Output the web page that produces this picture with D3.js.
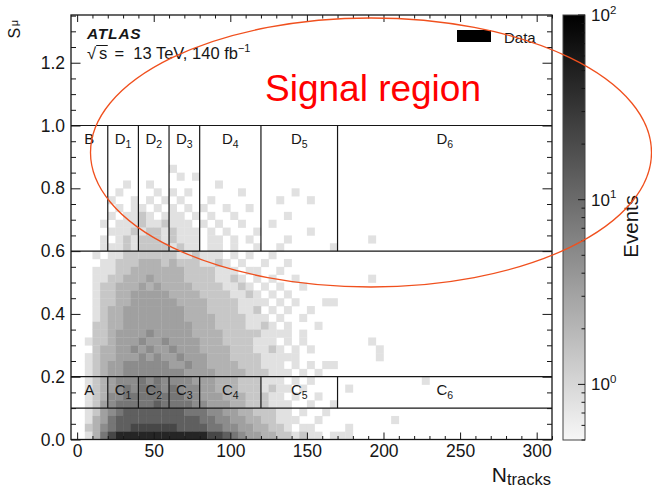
<!DOCTYPE html>
<html>
<head>
<meta charset="utf-8">
<script src="https://cdn.jsdelivr.net/npm/d3@7"></script>
<style>
html, body { margin: 0; padding: 0; background: #fff; }
svg { display: block; font-family: "Liberation Sans", Arial, Helvetica, sans-serif; }
</style>
</head>
<body>
<svg id="chart" width="652" height="488"></svg>
<script>
// --- values ---
var nBinWidth = 5;      // N_tracks per cell
var sBinWidth = 0.025;  // S_mu per cell
var sTop = 0.9;         // upper edge of the first row below

// one string per S_mu row, from 0.875-0.9 down to 0-0.025,
// one char per N_tracks cell (0-5, 5-10, ...), spaces only group by 5
var histRows = [
    "",
    "..... ..... ..1..",
    "..... ..... ...1. 1",
    "..... .1..1 ..... ...1.",
    "..... 1.... 1.1.1 ..... .1... ...1.",
    "....1 ..1.1 .1.1. ..1.. ..... .1... 1",
    "..... 1.11. 1.1.1 .1..1 ..1..",
    "....1 .1121 .111. 1.1.. 1.... ..1..",
    "...1. 11121 12111 .1.1. .1... 1",
    "....1 11212 21211 1.1.1 ...1. ..... 1",
    "...1. 12122 21211 1.11. 1.1.. ..1.. ..... ...1.",
    "...11 12122 22121 1.11. 1..1. .1... ...1.",
    "..1.1 12222 22211 2111. 1.1.. 1",
    "...11 22233 32322 21121 .1..1 ..1",
    "..111 22333 33332 22211 1.11. .1",
    "..112 23334 33332 22211 21.1. 1..1. ..... ...1.",
    "..122 33343 43333 22221 121.1 .1..1",
    "..122 33444 44333 32222 1121. 1.1",
    "..122 33444 44433 33222 21111 .1.1. ..11",
    "..123 34444 44443 33222 2112. 1.1.. 1",
    "..123 34444 44443 33322 22111 .1..1",
    "..223 34444 44444 33322 22112 1.1.. .1",
    "..223 44445 44444 33332 22221 111.1",
    ".1223 44454 45444 43332 22211 1.1.1 ..... ...1.",
    "..233 44545 44544 43333 22211 21.1. 1.... ....1",
    ".1233 44454 54454 44333 22221 1111. ..... ....1",
    ".1234 45555 55445 44333 32221 11.1. 1.11",
    ".1234 45555 55554 44433 33222 111.1 .1",
    ".1234 55565 65555 44433 32221 11.1. 1.... ..... ..... 1",
    ".1234 56566 65655 54433 32221 211.1 ..... 1",
    ".1235 56666 66665 54443 33222 11.1. .1",
    ".1245 66666 76666 55444 33222 111.. 1..1",
    ".1245 67777 77776 66554 43322 211.1 ..1",
    ".1346 77777 77777 76655 44332 2111. .1... ..... .1",
    ".2356 77888 88877 77665 54433 221.1 1.... 1",
    ".1368 99999 99999 99887 65443 32212 11.11 1"
];
// events per cell for each char above
var levelCounts = { '1': 0.8, '2': 1.4, '3': 2.2, '4': 3.2, '5': 5, '6': 8, '7': 13, '8': 22, '9': 45, 'a': 80 };

var xTicksMajor = [0, 50, 100, 150, 200, 250, 300];
var yTicksMajor = [0, 0.2, 0.4, 0.6, 0.8, 1.0, 1.2];
var zTicksMajor = [1, 10, 100];
var zDomain = [0.5, 100];

var regionEdgesN = [20, 40, 60, 80, 120, 170];
var regionEdgesS = [0.1, 0.2, 0.6, 1.0];
var upperLabels = [['B', ''], ['D', '1'], ['D', '2'], ['D', '3'], ['D', '4'], ['D', '5'], ['D', '6']];
var lowerLabels = [['A', ''], ['C', '1'], ['C', '2'], ['C', '3'], ['C', '4'], ['C', '5'], ['C', '6']];

// --- layout ---
var svg = d3.select('#chart');
var plot = { left: 71, right: 552, top: 15, bottom: 439.5 };
var cbar = { left: 563, right: 585, top: 15, bottom: 440 };
var ink = '#161616';

var x = d3.scaleLinear().domain([-4, 310]).range([plot.left, plot.right]);
var y = d3.scaleLinear().domain([0, 1.352]).range([plot.bottom, plot.top]);
var z = d3.scaleLog().domain(zDomain).range([cbar.bottom, cbar.top]);
var color = d3.scaleSequentialLog(d3.interpolateRgb('#f7f7f7', '#000000')).domain(zDomain);

// --- histogram cells ---
var cells = [];
histRows.forEach(function(row, i) {
    var chars = row.replace(/ /g, '');
    for (var j = 0; j < chars.length; j++) {
        if (chars[j] === '.') continue;
        cells.push({
            n0: j * nBinWidth,
            s0: sTop - (i + 1) * sBinWidth,
            count: levelCounts[chars[j]]
        });
    }
});

svg.append('g')
    .selectAll('rect')
    .data(cells)
    .join('rect')
    .attr('x', function(d) { return x(d.n0); })
    .attr('y', function(d) { return y(d.s0 + sBinWidth); })
    .attr('width', function(d) { return x(d.n0 + nBinWidth) - x(d.n0) + 0.3; })
    .attr('height', function(d) { return y(d.s0) - y(d.s0 + sBinWidth) + 0.3; })
    .attr('fill', function(d) { return color(d.count); });

// --- region boxes ---
var boxes = svg.append('g').attr('stroke', ink).attr('stroke-width', 1.2);
regionEdgesS.forEach(function(s) {
    boxes.append('line')
        .attr('x1', plot.left).attr('x2', plot.right)
        .attr('y1', y(s)).attr('y2', y(s));
});
regionEdgesN.forEach(function(n) {
    boxes.append('line').attr('x1', x(n)).attr('x2', x(n))
        .attr('y1', y(1.0)).attr('y2', y(0.6));
    boxes.append('line').attr('x1', x(n)).attr('x2', x(n))
        .attr('y1', y(0.2)).attr('y2', y(0.1));
});

var edgesAll = [x.domain()[0]].concat(regionEdgesN, [x.domain()[1]]);
function drawLabels(labels, top) {
    labels.forEach(function(lab, i) {
        var t = svg.append('text')
            .attr('x', (x(edgesAll[i]) + x(edgesAll[i + 1])) / 2)
            .attr('y', y(top) + 18.5)
            .attr('text-anchor', 'middle')
            .attr('font-size', 15)
            .attr('fill', ink);
        t.append('tspan').text(lab[0]);
        if (lab[1]) t.append('tspan').attr('font-size', 10.5).attr('dy', 3.5).text(lab[1]);
    });
}
drawLabels(upperLabels, 1.0);
drawLabels(lowerLabels, 0.2);

// --- axes ---
function notMajor(step) {
    return function(v) { return Math.abs(v / step - Math.round(v / step)) > 1e-6; };
}
var xMinor = d3.range(0, 311, 10).filter(notMajor(50));
var yMinor = d3.range(0, 1.351, 0.05).filter(notMajor(0.2));

function styleAxis(g) {
    g.select('.domain').remove();
    g.selectAll('line').attr('stroke', ink);
    g.attr('font-family', null).attr('font-size', 17.5);
    g.selectAll('text').attr('fill', ink);
}

svg.append('g').attr('transform', 'translate(0,' + plot.bottom + ')')
    .call(d3.axisBottom(x).tickValues(xTicksMajor).tickSize(-7).tickPadding(5).tickFormat(d3.format('d')))
    .call(styleAxis);
svg.append('g').attr('transform', 'translate(0,' + plot.bottom + ')')
    .call(d3.axisBottom(x).tickValues(xMinor).tickSize(-3.5).tickFormat(''))
    .call(styleAxis);
svg.append('g').attr('transform', 'translate(0,' + plot.top + ')')
    .call(d3.axisTop(x).tickValues(xTicksMajor).tickSize(-7).tickFormat(''))
    .call(styleAxis);
svg.append('g').attr('transform', 'translate(0,' + plot.top + ')')
    .call(d3.axisTop(x).tickValues(xMinor).tickSize(-3.5).tickFormat(''))
    .call(styleAxis);

svg.append('g').attr('transform', 'translate(' + plot.left + ',0)')
    .call(d3.axisLeft(y).tickValues(yTicksMajor).tickSize(-9.5).tickPadding(6).tickFormat(d3.format('.1f')))
    .call(styleAxis);
svg.append('g').attr('transform', 'translate(' + plot.left + ',0)')
    .call(d3.axisLeft(y).tickValues(yMinor).tickSize(-5).tickFormat(''))
    .call(styleAxis);
svg.append('g').attr('transform', 'translate(' + plot.right + ',0)')
    .call(d3.axisRight(y).tickValues(yTicksMajor).tickSize(-9.5).tickFormat(''))
    .call(styleAxis);
svg.append('g').attr('transform', 'translate(' + plot.right + ',0)')
    .call(d3.axisRight(y).tickValues(yMinor).tickSize(-5).tickFormat(''))
    .call(styleAxis);

svg.append('rect')
    .attr('x', plot.left).attr('y', plot.top)
    .attr('width', plot.right - plot.left).attr('height', plot.bottom - plot.top)
    .attr('fill', 'none').attr('stroke', ink).attr('stroke-width', 1.3);

// axis titles
var yTitle = svg.append('text')
    .attr('transform', 'translate(20,38.5) rotate(-90)')
    .attr('font-size', 16).attr('fill', ink);
yTitle.append('tspan').text('S');
yTitle.append('tspan').attr('font-size', 11).attr('dx', 1.5).attr('dy', -2).text('\u03bc');

var xTitle = svg.append('text')
    .attr('x', 551).attr('y', 482)
    .attr('text-anchor', 'end').attr('fill', ink);
xTitle.append('tspan').attr('font-size', 21).text('N');
xTitle.append('tspan').attr('font-size', 16.5).attr('dy', 3).text('tracks');

// --- colour bar ---
var defs = svg.append('defs');
var grad = defs.append('linearGradient').attr('id', 'zgrad')
    .attr('x1', 0).attr('y1', 1).attr('x2', 0).attr('y2', 0);
d3.range(0, 21).forEach(function(k) {
    var v = zDomain[0] * Math.pow(zDomain[1] / zDomain[0], k / 20);
    grad.append('stop').attr('offset', k / 20).attr('stop-color', color(v));
});
svg.append('rect')
    .attr('x', cbar.left).attr('y', cbar.top)
    .attr('width', cbar.right - cbar.left).attr('height', cbar.bottom - cbar.top)
    .attr('fill', 'url(#zgrad)').attr('stroke', '#444').attr('stroke-width', 1);

var zMinor = [];
[0.1, 1, 10].forEach(function(dec) {
    d3.range(1, 10).forEach(function(m) {
        var v = m * dec;
        if (v >= zDomain[0] && v <= zDomain[1] && zTicksMajor.indexOf(v) < 0) zMinor.push(v);
    });
});
var zt = svg.append('g').attr('stroke', ink).attr('stroke-width', 1);
zMinor.forEach(function(v) {
    zt.append('line').attr('x1', cbar.right - 3.5).attr('x2', cbar.right)
        .attr('y1', z(v)).attr('y2', z(v));
});
zTicksMajor.forEach(function(v) {
    zt.append('line').attr('x1', cbar.right - 7).attr('x2', cbar.right)
        .attr('y1', z(v)).attr('y2', z(v));
    var t = svg.append('text')
        .attr('x', cbar.right + 6).attr('y', z(v) + 6)
        .attr('font-size', 17).attr('fill', ink);
    t.append('tspan').text('10');
    t.append('tspan').attr('font-size', 11.5).attr('dy', -7.5).text(String(Math.round(Math.log10(v))));
});
svg.append('text')
    .attr('transform', 'translate(638,195) rotate(-90)')
    .attr('text-anchor', 'end').attr('font-size', 20.5).attr('fill', ink)
    .text('Events');

// --- ATLAS label and legend ---
svg.append('text')
    .attr('x', 87).attr('y', 39)
    .attr('font-size', 15.5).attr('font-weight', 'bold').attr('font-style', 'italic')
    .attr('letter-spacing', 0.8).attr('fill', ink)
    .text('ATLAS');

var rootSign = svg.append('text').attr('x', 87).attr('y', 59.3)
    .attr('font-size', 16.5).attr('fill', ink).text('\u221a');
var sLetter = svg.append('text').attr('x', 99).attr('y', 59.3)
    .attr('font-size', 16.5).attr('fill', ink).text('s');
var rb = rootSign.node().getBBox(), sb = sLetter.node().getBBox();
svg.append('line')
    .attr('x1', rb.x + rb.width - 0.8).attr('x2', sb.x + sb.width + 0.5)
    .attr('y1', rb.y + 1.2).attr('y2', rb.y + 1.2)
    .attr('stroke', ink).attr('stroke-width', 1);
var energy = svg.append('text').attr('x', 114.5).attr('y', 59.3)
    .attr('font-size', 16.5).attr('fill', ink);
energy.append('tspan').text('= \u00a013 TeV, 140 fb');
energy.append('tspan').attr('font-size', 11).attr('dy', -7).text('\u22121');

svg.append('rect')
    .attr('x', 457).attr('y', 30).attr('width', 34).attr('height', 12)
    .attr('fill', '#000');
svg.append('text')
    .attr('x', 504).attr('y', 42.5)
    .attr('font-size', 15).attr('fill', ink)
    .text('Data');

// --- signal region annotation ---
svg.append('text')
    .attr('x', 265).attr('y', 101)
    .attr('font-size', 37).attr('fill', '#ff0000')
    .text('Signal region');
svg.append('ellipse')
    .attr('cx', 371).attr('cy', 152.5).attr('rx', 280.5).attr('ry', 134.5)
    .attr('fill', 'none').attr('stroke', '#f0501e').attr('stroke-width', 1.3);
</script>
</body>
</html>
